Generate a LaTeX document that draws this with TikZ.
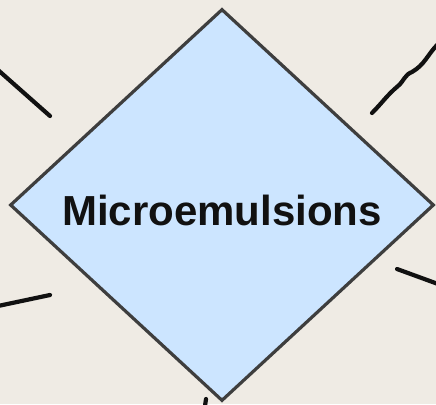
\documentclass[tikz,border=0pt]{standalone}
\usepackage{fontspec}
\setmainfont{Liberation Sans}
\usetikzlibrary{shapes.geometric}
\definecolor{mepaper}{HTML}{EFEBE4}
\definecolor{meblue}{HTML}{CCE5FF}
\definecolor{meedge}{HTML}{3E3E3E}
\definecolor{meink}{HTML}{111111}
\tikzset{
  topic/.style={shape=diamond, fill=meblue, draw=meedge, line width=3.2pt,
    minimum width=424pt, minimum height=392pt, inner sep=0pt, aspect=1.08},
  topictext/.style={font=\fontsize{42}{46}\selectfont\bfseries, text=meink, inner sep=0pt},
  spoke/.style={draw=meink, line width=4.2pt, line cap=round}
}
\begin{document}
\begin{tikzpicture}[x=1pt, y=-1pt]
  \fill[mepaper] (0,0) rectangle (436,404);
  \useasboundingbox (0,0) rectangle (436,404);
  % outer ends of the spokes
  \coordinate (nw) at (-2,70);
  \coordinate (ne) at (438,44);
  \coordinate (sw) at (-2,306);
  \coordinate (se) at (438,284);
  \coordinate (s) at (205,406);
  \coordinate (nwin) at (50,116);
  \coordinate (nein) at (372,113);
  \coordinate (swin) at (50,295);
  \coordinate (sein) at (397,269);
  \coordinate (sin) at (206,399);
  \draw[spoke] (nw) -- (nwin);
  \draw[spoke] (nein) to[out=45,in=220] (398,86) to[out=40,in=200] (412,72) to[out=30,in=225] (ne);
  \draw[spoke] (sw) -- (swin);
  \draw[spoke] (sein) -- (se);
  \draw[spoke] (sin) -- (s);
  \node[topic] (me) at (222,205) {};
  \node[topictext] (metext) at ([yshift=-5pt]me.center) {Microemulsions};
\end{tikzpicture}
\end{document}
